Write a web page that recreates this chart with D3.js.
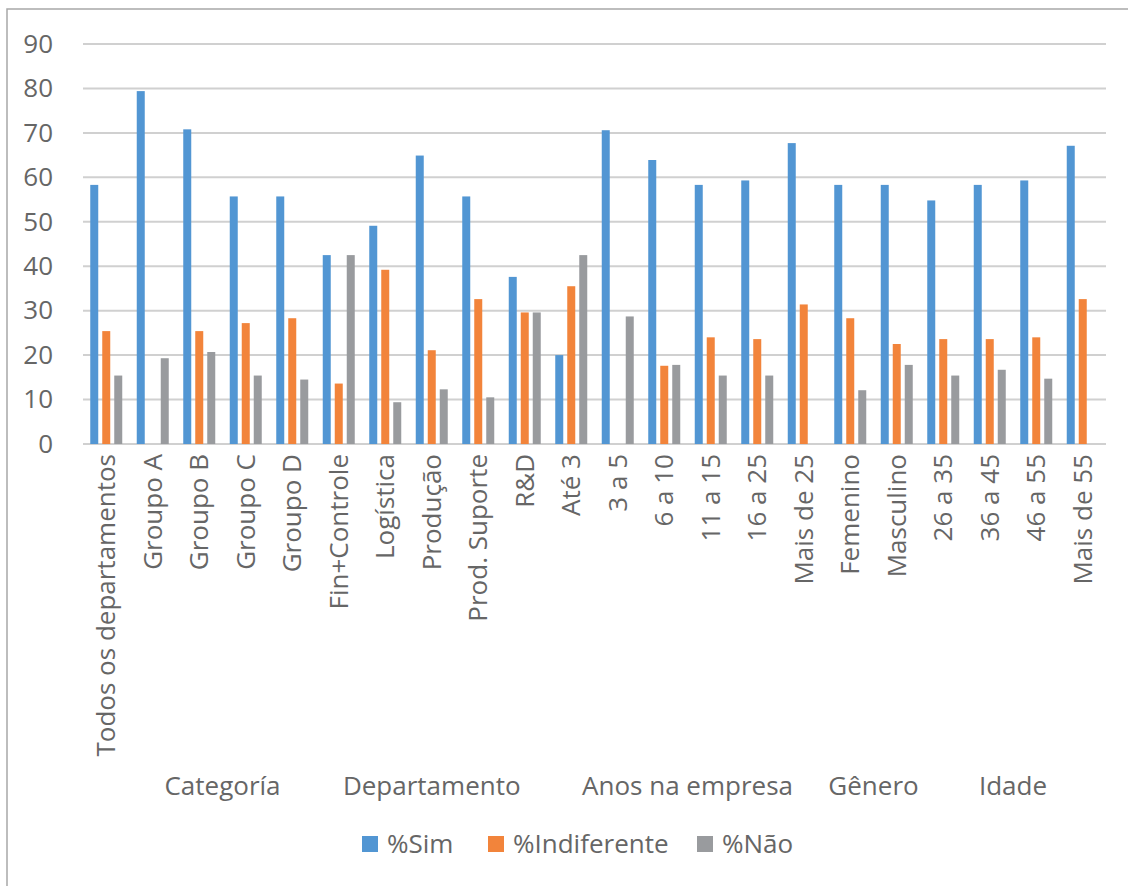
<!DOCTYPE html>
<html>
<head>
<meta charset="utf-8">
<script src="https://cdn.jsdelivr.net/npm/d3@7"></script>
<style>
  body { margin: 0; background: #fff; }
  text { font-family: "Open Sans", sans-serif; fill: #666; }
</style>
</head>
<body>
<svg id="chart"></svg>
<script>
const width = 1128;
const height = 886;

// categories along the x axis, with their group label ("" = no group)
const categories = ["Todos os departamentos", "Groupo A", "Groupo B", "Groupo C", "Groupo D",
  "Fin+Controle", "Logística", "Produção", "Prod. Suporte", "R&D",
  "Até 3", "3 a 5", "6 a 10", "11 a 15", "16 a 25", "Mais de 25",
  "Femenino", "Masculino",
  "26 a 35", "36 a 45", "46 a 55", "Mais de 55"];
const groupOf = ["", "Categoría", "Categoría", "Categoría", "Categoría",
  "Departamento", "Departamento", "Departamento", "Departamento", "Departamento",
  "Anos na empresa", "Anos na empresa", "Anos na empresa", "Anos na empresa", "Anos na empresa", "Anos na empresa",
  "Gênero", "Gênero",
  "Idade", "Idade", "Idade", "Idade"];
const groupNames = ["Categoría", "Departamento", "Anos na empresa", "Gênero", "Idade"];

const series = ["%Sim", "%Indiferente", "%Não"];
const sim = [58.3, 79.4, 70.8, 55.7, 55.7, 42.5, 49.1, 64.9, 55.7, 37.6,
  20.0, 70.6, 63.9, 58.3, 59.3, 67.7, 58.3, 58.3, 54.8, 58.3, 59.3, 67.1];
const indiferente = [25.4, 0, 25.4, 27.2, 28.3, 13.6, 39.2, 21.1, 32.6, 29.6,
  35.5, 0, 17.6, 24.0, 23.6, 31.4, 28.3, 22.5, 23.6, 23.6, 24.0, 32.6];
const nao = [15.4, 19.3, 20.7, 15.4, 14.5, 42.5, 9.4, 12.3, 10.5, 29.6,
  42.5, 28.7, 17.8, 15.4, 15.4, 0, 12.1, 17.8, 15.4, 16.7, 14.7, 0];
const yTicks = [0, 10, 20, 30, 40, 50, 60, 70, 80, 90];
const colors = ["#5296d3", "#f2843b", "#999b9e"];

const values = [sim, indiferente, nao];
const rows = categories.map((c, i) => ({
  cat: c,
  vals: series.map((s, k) => ({ key: s, value: values[k][i] }))
}));

const svg = d3.select("#chart")
  .attr("width", width)
  .attr("height", height);

// chart frame (top + left edges visible)
svg.append("path")
  .attr("d", `M7,${height + 5} L7,9 L${width + 5},9`)
  .attr("fill", "none")
  .attr("stroke", "#a8a8a8")
  .attr("stroke-width", 1.5);

// Scales
const x0 = d3.scaleBand()
  .domain(categories)
  .range([83, 1106]);

const x1 = d3.scaleBand()
  .domain(series)
  .range([0, 32])
  .paddingInner(1 / 3);

const y = d3.scaleLinear()
  .domain([0, 90])
  .range([444, 44]);

// gridlines
svg.append("g")
  .selectAll("line")
  .data(yTicks)
  .enter()
  .append("line")
  .attr("x1", 83)
  .attr("x2", 1106)
  .attr("y1", (d) => y(d))
  .attr("y2", (d) => y(d))
  .attr("stroke", "#d0d0d0")
  .attr("stroke-width", 2);

// y axis labels
const yAxis = svg.append("g")
  .attr("transform", "translate(53,0)")
  .call(d3.axisLeft(y).tickValues(yTicks).tickSize(0).tickPadding(0));
yAxis.select(".domain").remove();
yAxis.selectAll("text")
  .style("font-size", "26px")
  .style("font-family", "Open Sans, sans-serif")
  .attr("fill", "#666");

// bars
const groups = svg.append("g")
  .selectAll("g")
  .data(rows)
  .enter()
  .append("g")
  .attr("transform", (d) => `translate(${x0(d.cat) + x0.bandwidth() / 2 - 16},0)`);

groups.selectAll("rect")
  .data((d) => d.vals.filter((v) => v.value > 0))
  .enter()
  .append("rect")
  .attr("x", (d) => x1(d.key))
  .attr("y", (d) => y(d.value))
  .attr("width", x1.bandwidth())
  .attr("height", (d) => y(0) - y(d.value))
  .attr("fill", (d) => colors[series.indexOf(d.key)]);

// category labels (rotated)
svg.append("g")
  .selectAll("text")
  .data(categories)
  .enter()
  .append("text")
  .attr("transform", (d) => `translate(${x0(d) + x0.bandwidth() / 2},454) rotate(-90)`)
  .attr("dy", "0.35em")
  .attr("text-anchor", "end")
  .style("font-size", "26px")
  .text((d) => d);

// group labels
svg.append("g")
  .selectAll("text")
  .data(groupNames)
  .enter()
  .append("text")
  .attr("x", (g) => d3.mean(categories.filter((c, i) => groupOf[i] === g), (c) => x0(c) + x0.bandwidth() / 2))
  .attr("y", 795)
  .attr("text-anchor", "middle")
  .style("font-size", "26px")
  .text((g) => g);

// legend
const legendX = [362, 488, 697];
const legend = svg.append("g")
  .selectAll("g")
  .data(series)
  .enter()
  .append("g")
  .attr("transform", (d, i) => `translate(${legendX[i]},836)`);

legend.append("rect")
  .attr("width", 16)
  .attr("height", 16)
  .attr("fill", (d, i) => colors[i]);

legend.append("text")
  .attr("x", 25)
  .attr("y", 17)
  .style("font-size", "26px")
  .text((d) => d);
</script>
</body>
</html>
